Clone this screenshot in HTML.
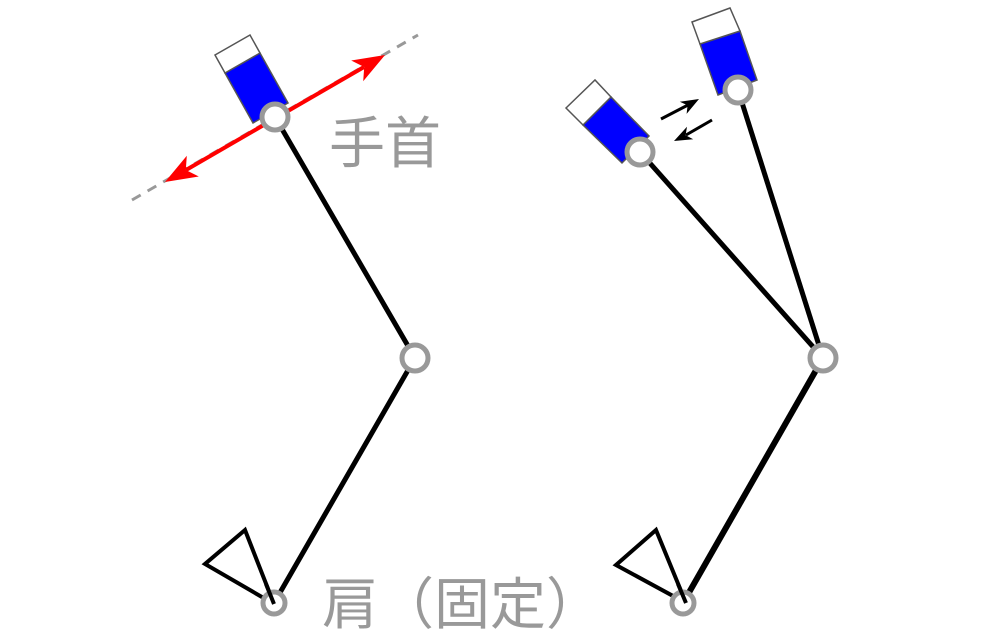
<!DOCTYPE html>
<html><head><style>body{margin:0;background:#fff}svg{display:block}</style></head><body>
<svg width="1000" height="633" viewBox="0 0 1000 633" xmlns="http://www.w3.org/2000/svg">
<g stroke="#000" stroke-width="5" fill="none">
<line x1="274" y1="603" x2="415" y2="358"/><line x1="415" y1="358" x2="275" y2="117"/>
<line x1="683" y1="603" x2="823" y2="358" stroke-width="6"/><line x1="823" y1="358" x2="640" y2="152"/><line x1="823" y1="358" x2="738" y2="90"/>
</g>
<g stroke="#000" stroke-width="4" fill="#fff" stroke-linejoin="miter">
<polygon points="245,530 205,564 274,604"/>
<polygon points="656,530 616,565 686,603"/>
</g>
<line x1="132" y1="200" x2="418" y2="35" stroke="#999" stroke-width="3" stroke-dasharray="10,8"/>
<g stroke="#555" stroke-width="1.5">
<polygon points="225,73 260,53 288,103 253,123" fill="#0000ff"/>
<polygon points="215,55 250,35 260,53 225,73" fill="#fff"/>
<polygon points="583,125 611,97 649,136 622,163" fill="#0000ff"/>
<polygon points="566,108 595,80 611,97 583,125" fill="#fff"/>
<polygon points="700,44 740,31 757,80 718,95" fill="#0000ff"/>
<polygon points="692,22 730,8 740,31 700,44" fill="#fff"/>
</g>
<line x1="186" y1="170" x2="364" y2="67" stroke="red" stroke-width="4"/>
<polygon points="385,55 363.2,81.3 364.2,67 351.2,60.5" fill="red"/>
<polygon points="165,182 198.8,176.5 185.8,170 186.8,155.7" fill="red"/>
<line x1="661" y1="119" x2="688" y2="105" stroke="#000" stroke-width="3"/>
<polygon points="699,99 686.6,113.9 687.6,105.3 679.8,101.7" fill="#000"/>
<line x1="712" y1="120" x2="686" y2="135" stroke="#000" stroke-width="3"/>
<polygon points="674,141 693.2,139.3 685.6,135.2 687,126.7" fill="#000"/>
<g stroke="#999" stroke-width="5" fill="#fff">
<circle cx="275" cy="117" r="13"/><circle cx="415" cy="358" r="13"/><circle cx="274" cy="603" r="11"/>
<circle cx="640" cy="152" r="13"/><circle cx="738" cy="90" r="13"/><circle cx="823" cy="358" r="13"/><circle cx="683" cy="603" r="11"/>
</g>
<g stroke="#000" stroke-width="4" fill="none"><line x1="274" y1="604" x2="266" y2="584"/><line x1="686" y1="603" x2="678" y2="584"/></g>
<g font-family="'Liberation Sans','Noto Sans CJK JP',sans-serif" font-size="56" fill="#999">
<text x="329" y="163">手首</text>
<text x="322" y="624">肩（固定）</text>
</g>
</svg>
</body></html>
